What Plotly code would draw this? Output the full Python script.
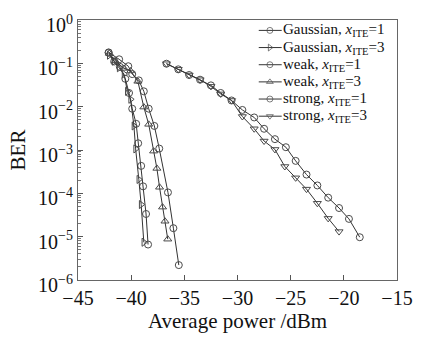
import plotly.graph_objects as go

# ---- data ----
gauss1_x = [-42.12, -41.60, -41.07, -40.55, -40.20, -39.90, -39.53, -39.34, -39.06, -38.88, -38.60, -38.41]
gauss1_y = [0.175, 0.110, 0.0832, 0.0440, 0.0207, 0.00898, 0.00402, 0.00143, 4.30e-4, 1.45e-4, 3.34e-5, 6.58e-6]

gauss3_x = [-42.06, -41.60, -41.13, -40.67, -40.36, -40.05, -39.74, -39.58, -39.28, -39.06, -38.81]
gauss3_y = [0.154, 0.112, 0.0791, 0.0565, 0.0226, 0.0148, 0.00359, 0.00106, 2.09e-4, 5.51e-5, 7.42e-6]

weak1_x = [-42.12, -41.13, -40.27, -39.90, -39.28, -38.81, -38.35, -37.82, -37.36, -36.54, -36.03, -35.52]
weak1_y = [0.179, 0.124, 0.0858, 0.0565, 0.0404, 0.0226, 0.00898, 0.00359, 0.00108, 1.05e-4, 1.57e-5, 2.21e-6]

weak3_x = [-42.06, -41.50, -40.67, -40.05, -39.37, -38.81, -38.35, -37.89, -37.58, -37.33, -37.05, -36.82, -36.56]
weak3_y = [0.170, 0.114, 0.0764, 0.0667, 0.0385, 0.00978, 0.00391, 9.41e-4, 3.76e-4, 1.38e-4, 4.81e-5, 2.27e-5, 8.75e-6]

strong1_x = [-36.68, -35.57, -34.55, -33.52, -32.50, -31.58, -30.56, -29.54, -28.43, -27.50, -26.48, -25.45,
             -24.53, -23.51, -22.49, -21.47, -20.45, -19.52, -18.50]
strong1_y = [0.098, 0.0727, 0.0538, 0.0419, 0.031, 0.0207, 0.0139, 0.0084, 0.00564, 0.00309, 0.00178, 0.00116,
             5.61e-4, 2.71e-4, 1.52e-4, 7.94e-5, 4.58e-5, 2.57e-5, 9.7e-6]

strong3_x = [-36.68, -35.57, -34.55, -33.52, -32.50, -31.58, -30.56, -29.54, -28.43, -27.50, -26.48, -25.55,
             -24.53, -23.51, -22.49, -21.47, -20.45]
strong3_y = [0.098, 0.0727, 0.0538, 0.0419, 0.0294, 0.0197, 0.0139, 0.00593, 0.00309, 0.00161, 0.00103, 4.16e-4,
             2.28e-4, 1.25e-4, 5.89e-5, 2.64e-5, 1.31e-5]

series_names = [
    "Gaussian, <i>x</i><sub>ITE</sub>=1",
    "Gaussian, <i>x</i><sub>ITE</sub>=3",
    "weak, <i>x</i><sub>ITE</sub>=1",
    "weak, <i>x</i><sub>ITE</sub>=3",
    "strong, <i>x</i><sub>ITE</sub>=1",
    "strong, <i>x</i><sub>ITE</sub>=3",
]
series_x = [gauss1_x, gauss3_x, weak1_x, weak3_x, strong1_x, strong3_x]
series_y = [gauss1_y, gauss3_y, weak1_y, weak3_y, strong1_y, strong3_y]

x_ticks = [-45, -40, -35, -30, -25, -20, -15]
y_exps = [-6, -5, -4, -3, -2, -1, 0]

# ---- styles ----
symbols = ["circle-open", "triangle-right-open", "circle-open", "triangle-up-open", "circle-open", "triangle-down-open"]
line_col = "#333333"
mark_col = "#4a4a4a"
FONT = "Liberation Serif"

fig = go.Figure()
for name, xs, ys, sym in zip(series_names, series_x, series_y, symbols):
    fig.add_trace(go.Scatter(
        x=xs, y=ys, mode="lines+markers", name=name, showlegend=False,
        line=dict(color=line_col, width=1),
        marker=dict(symbol=sym, size=7, color=mark_col, line=dict(width=1, color=mark_col)),
    ))

# compact legend (samples on an overlay axis spanning [0,1] of the plot area)
leg_x0, leg_xm, leg_x1, leg_tx = 0.5666, 0.6015, 0.6386, 0.640
leg_top, leg_step = 0.960, 0.0660
for i, (name, sym) in enumerate(zip(series_names, symbols)):
    yy = leg_top - i * leg_step
    fig.add_trace(go.Scatter(
        x=[leg_x0, leg_xm, leg_x1], y=[yy, yy, yy], xaxis="x2", yaxis="y2",
        mode="lines+markers", showlegend=False, hoverinfo="skip",
        line=dict(color=line_col, width=1),
        marker=dict(symbol=sym, size=[0, 6, 0], color=mark_col, line=dict(width=1, color=mark_col)),
    ))
    fig.add_annotation(x=leg_tx, y=yy, xref="x2", yref="y2", text=name, showarrow=False,
                       xanchor="left", yanchor="middle", borderpad=0,
                       font=dict(family=FONT, size=15, color="#111"))

fig.update_layout(
    width=425, height=340,
    margin=dict(l=78, r=23, t=13, b=52),
    paper_bgcolor="white", plot_bgcolor="white",
    font=dict(family=FONT, size=20, color="#111"),
    xaxis=dict(
        range=[-45, -15], tickvals=x_ticks, ticktext=["\u2212" + str(abs(v)) for v in x_ticks],
        ticks="inside", ticklen=5, tickcolor="#555", showgrid=False, zeroline=False,
        showline=True, mirror=True, linecolor="#666", linewidth=1.2,
        title=dict(text="Average power /dBm", font=dict(size=21), standoff=4),
        tickfont=dict(size=20),
    ),
    yaxis=dict(
        type="log", range=[-6, 0],
        tickvals=[10.0 ** e for e in y_exps],
        ticktext=["10<sup>" + ("\u2212" + str(-e) if e < 0 else str(e)) + "</sup>" for e in y_exps],
        ticks="inside", ticklen=5, tickcolor="#555", showgrid=False, zeroline=False,
        showline=True, mirror=True, linecolor="#666", linewidth=1.2,
        minor=dict(ticks="inside", ticklen=2.5, tickcolor="#777", dtick="D1", showgrid=False),
        title=dict(text="BER", font=dict(size=21), standoff=6),
        tickfont=dict(size=20), ticklabelshift=5,
    ),
    xaxis2=dict(range=[0, 1], overlaying="x", visible=False, fixedrange=True),
    yaxis2=dict(range=[0, 1], overlaying="y", visible=False, fixedrange=True),
)

fig.write_html("out.html")
